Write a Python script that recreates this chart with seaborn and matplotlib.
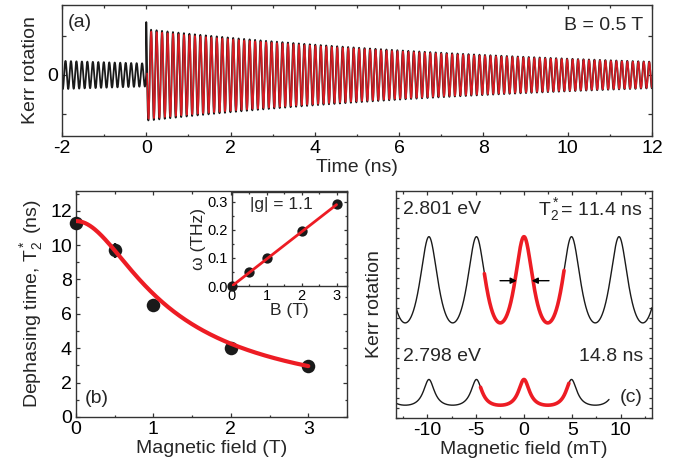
import numpy as np
import matplotlib
matplotlib.use("Agg")
import matplotlib.pyplot as plt
import seaborn as sns
from matplotlib.ticker import MultipleLocator, FormatStrFormatter

RED = "#ed1c24"
DARK = "#1a1a1a"

# physical constants / fit parameters
mu_b_hbar = 87.96      # rad/ns per T
g_factor = 1.1
t_rep = 13.2           # ns, laser repetition period

# (a) time-resolved Kerr rotation at B = 0.5 T
field_a = 0.5          # T
t2_a = 9.7             # ns
phase_a = 0.72         # rad
t_start, t_stop = -2.0, 12.0

# (b) dephasing time vs field
field_b = [0, 0.5, 1, 2, 3]
t2_b = [11.3, 9.7, 6.5, 4.0, 2.95]
t2_err = [0.3, 0.45, 0.25, 0.25, 0.25]
t2_zero = 11.4         # ns, fit value at B = 0
dephase_rate = 1.24    # 1/T, inhomogeneous broadening term

# inset: Larmor frequency vs field
field_in = [0, 0.5, 1, 2, 3]
omega_in = [0.0, 0.05, 0.10, 0.197, 0.292]
field_in_fit = [0, 3]
omega_in_fit = [0.0, 0.29]

# (c) resonant spin amplification traces (effective decay sets peak shape)
rsa_decay = [8.2, 14.8]
rsa_span = [(-13.25, 13.25), (-13.25, 8.8)]
rsa_fit_span = [(-4.1, 4.15), (-4.5, 4.65)]
rsa_scale = [0.912, 0.115]
rsa_offset = [0.571, 0.090]


def kerr_signal(t, t2, omega, phase):
    """Sum of the contributions of the current and previous pump pulses."""
    s = np.zeros_like(t)
    for n in range(4):
        tt = t + n * t_rep
        on = tt >= 0
        s[on] += np.exp(-tt[on] / t2) * np.cos(omega * tt[on] + phase)
    return s


def rsa(b_mt, t2):
    q = np.exp(-t_rep / t2) * np.exp(1j * g_factor * mu_b_hbar * b_mt * 1e-3 * t_rep)
    return np.real(q / (1 - q))


sns.set_theme(style="ticks")
plt.rcParams["font.family"] = ["Liberation Sans", "DejaVu Sans"]
plt.rcParams["mathtext.fontset"] = "custom"
plt.rcParams["mathtext.rm"] = "Liberation Sans"
plt.rcParams["mathtext.it"] = "Liberation Sans:italic"
plt.rcParams["font.size"] = 14
plt.rcParams["axes.unicode_minus"] = False


def style_axes(ax, size=14, major=3.0, minor=1.8, pad=3):
    for sp in ax.spines.values():
        sp.set_linewidth(1.0)
        sp.set_color("#333333")
    ax.tick_params(which="both", direction="in", top=True, right=True,
                   width=0.9, colors="#333333", labelcolor="black",
                   labelsize=size, pad=pad)
    ax.tick_params(which="major", length=major)
    ax.tick_params(which="minor", length=minor)


fig = plt.figure(figsize=(6.87, 4.74), dpi=100)

# ---------------- (a) ----------------
ax_a = fig.add_axes([0.0902, 0.7131, 0.8588, 0.2764])
omega_a = g_factor * mu_b_hbar * field_a
t = np.linspace(t_start, t_stop, 24000)
data_a = 1.04 * kerr_signal(t, t2_a, omega_a, phase_a + 0.2)
data_a[t >= 0] += 0.4 * np.exp(-t[t >= 0] / 0.01)
t_fit = t[t >= 0.02]
fit_a = kerr_signal(t_fit, t2_a, omega_a, phase_a)
sns.lineplot(x=t, y=data_a, ax=ax_a, color=DARK, lw=1.3,
             estimator=None, sort=False)
sns.lineplot(x=t_fit, y=fit_a, ax=ax_a, color=RED, lw=1.1,
             estimator=None, sort=False, alpha=0.9)
ax_a.set_xlim(t_start, t_stop)
ax_a.set_ylim(-1.173, 1.346)
ax_a.xaxis.set_major_locator(MultipleLocator(2))
ax_a.xaxis.set_minor_locator(MultipleLocator(1))
ax_a.set_yticks([-0.75, 0, 0.75])
ax_a.set_yticklabels(["", "0", ""])
style_axes(ax_a)
ax_a.set_xlabel("Time (ns)", fontsize=14, labelpad=1)
ax_a.set_ylabel("Kerr rotation", fontsize=14, labelpad=6)
ax_a.text(0.01, 0.863, "(a)", transform=ax_a.transAxes, fontsize=14, va="center")
ax_a.text(0.985, 0.847, "B = 0.5 T", transform=ax_a.transAxes, fontsize=14,
          va="center", ha="right")

# ---------------- (b) ----------------
ax_b = fig.add_axes([0.1106, 0.1203, 0.3945, 0.4768])
b_fit = np.linspace(0, 3, 200)
t2_fit = t2_zero / np.sqrt(1 + (dephase_rate * b_fit) ** 2)
ax_b.errorbar(field_b, t2_b, yerr=t2_err, fmt="none", ecolor=DARK,
              elinewidth=1.6, capsize=0, zorder=2, clip_on=False)
sns.scatterplot(x=field_b, y=t2_b, ax=ax_b, s=95, color=DARK, edgecolor=DARK,
                linewidth=0, zorder=3, clip_on=False)
sns.lineplot(x=b_fit, y=t2_fit, ax=ax_b, color=RED, lw=3.0, zorder=4,
             estimator=None, sort=False)
ax_b.set_xlim(0, 3.5)
ax_b.set_ylim(0, 13.15)
ax_b.xaxis.set_major_locator(MultipleLocator(1))
ax_b.xaxis.set_minor_locator(MultipleLocator(0.5))
ax_b.yaxis.set_major_locator(MultipleLocator(2))
ax_b.yaxis.set_minor_locator(MultipleLocator(1))
style_axes(ax_b)
ax_b.set_xlabel("Magnetic field (T)", fontsize=14, labelpad=1)
ax_b.set_ylabel("Dephasing time, T$_2^*$ (ns)", fontsize=14, labelpad=4)
ax_b.text(0.033, 0.08, "(b)", transform=ax_b.transAxes, fontsize=14, va="center")

# inset
ax_in = fig.add_axes([0.3377, 0.3966, 0.1674, 0.1983])
sns.scatterplot(x=field_in, y=omega_in, ax=ax_in, s=55, color=DARK,
                edgecolor=DARK, linewidth=0, zorder=3, clip_on=False)
sns.lineplot(x=field_in_fit, y=omega_in_fit, ax=ax_in, color=RED, lw=2.0,
             zorder=4, estimator=None, sort=False)
ax_in.set_xlim(0, 3.3)
ax_in.set_ylim(0, 0.335)
ax_in.xaxis.set_major_locator(MultipleLocator(1))
ax_in.xaxis.set_minor_locator(MultipleLocator(0.5))
ax_in.yaxis.set_major_locator(MultipleLocator(0.1))
ax_in.yaxis.set_minor_locator(MultipleLocator(0.05))
ax_in.yaxis.set_major_formatter(FormatStrFormatter("%.1f"))
style_axes(ax_in, size=10.5, major=2.5, minor=1.5)
ax_in.tick_params(axis="x", pad=2.5)
ax_in.tick_params(axis="y", pad=3)
ax_in.set_xlabel("B (T)", fontsize=12.5, labelpad=0)
ax_in.set_ylabel("ω (THz)", fontsize=12.5, labelpad=1)
ax_in.text(0.157, 0.862, "|g| = 1.1", transform=ax_in.transAxes,
           fontsize=12.5, va="center")

# ---------------- (c) ----------------
ax_c = fig.add_axes([0.5764, 0.1181, 0.3726, 0.4789])
for t2, span, fspan, k, off in zip(rsa_decay, rsa_span, rsa_fit_span,
                                   rsa_scale, rsa_offset):
    b = np.linspace(span[0], span[1], 1500)
    sns.lineplot(x=b, y=off + k * rsa(b, t2), ax=ax_c, color=DARK, lw=1.0,
                 estimator=None, sort=False)
    bf = np.linspace(fspan[0], fspan[1], 600)
    sns.lineplot(x=bf, y=off + k * rsa(bf, t2), ax=ax_c, color=RED, lw=2.6,
                 estimator=None, sort=False)
ax_c.annotate("", xy=(-0.75, 0.605), xytext=(-2.48, 0.605),
              arrowprops=dict(arrowstyle="-|>", color="black", lw=1.0,
                              mutation_scale=9, shrinkA=0, shrinkB=0))
ax_c.annotate("", xy=(0.8, 0.605), xytext=(2.59, 0.605),
              arrowprops=dict(arrowstyle="-|>", color="black", lw=1.0,
                              mutation_scale=9, shrinkA=0, shrinkB=0))
ax_c.set_xlim(-13.25, 13.25)
ax_c.set_ylim(0, 1)
ax_c.xaxis.set_major_locator(MultipleLocator(5))
ax_c.xaxis.set_minor_locator(MultipleLocator(2.5))
ax_c.yaxis.set_major_locator(MultipleLocator(0.044))
ax_c.set_yticklabels([])
style_axes(ax_c)
ax_c.tick_params(axis="y", which="major", length=2.0)
ax_c.set_xlabel("Magnetic field (mT)", fontsize=14, labelpad=1)
ax_c.set_ylabel("Kerr rotation", fontsize=14, labelpad=6)
ax_c.text(0.027, 0.92, "2.801 eV", transform=ax_c.transAxes, fontsize=14, va="center")
ax_c.text(0.965, 0.92, "T$_2^*$= 11.4 ns", transform=ax_c.transAxes,
          fontsize=14, va="center", ha="right")
ax_c.text(0.027, 0.269, "2.798 eV", transform=ax_c.transAxes, fontsize=14, va="center")
ax_c.text(0.965, 0.269, "14.8 ns", transform=ax_c.transAxes, fontsize=14,
          va="center", ha="right")
ax_c.text(0.965, 0.0925, "(c)", transform=ax_c.transAxes, fontsize=14,
          va="center", ha="right")

fig.savefig("out.png", dpi=100)
plt.close(fig)
